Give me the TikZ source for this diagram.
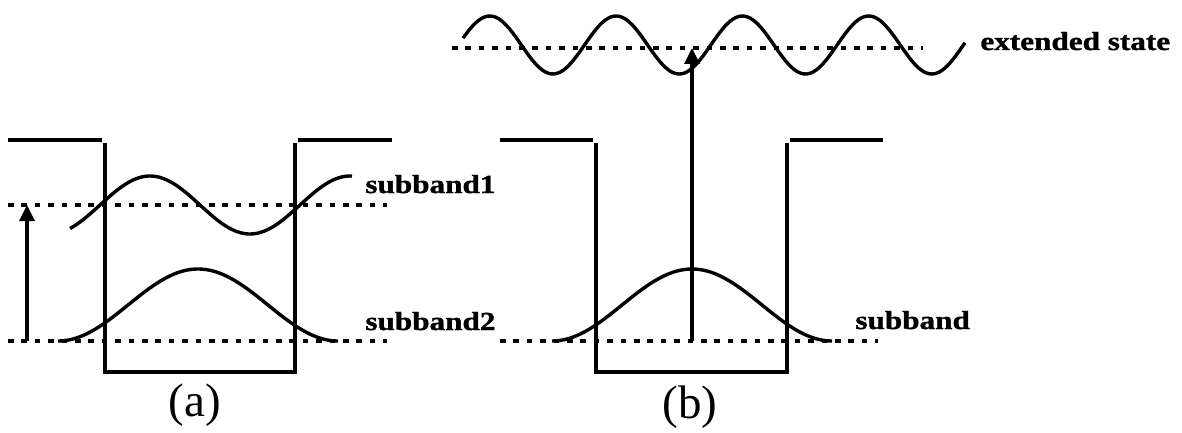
\documentclass[tikz,border=0pt]{standalone}
\usepackage{fontspec}
\setmainfont{Liberation Serif}
\newfontfamily\lblfont[FakeStretch=1.2, FakeBold=1.2]{Liberation Serif Bold}
\usetikzlibrary{arrows.meta}

\begin{document}
\begin{tikzpicture}[x=0.5pt, y=-0.5pt,
  wall/.style={line width=1.7pt},
  wave/.style={line width=1.7pt},
  level/.style={line width=1.6pt, dash pattern=on 2.8pt off 3.9pt},
  ar/.style={-{Triangle[length=8pt, width=7.5pt]}, line width=1.7pt},
  lbl/.style={font=\fontsize{13}{15}\lblfont, anchor=base west, inner sep=0pt},
  tag/.style={font=\fontsize{23.5}{27}\selectfont, inner sep=0pt}
]
\useasboundingbox (0,0) rectangle (1182,433);

% (a)
\draw[wall] (8,140) -- (102,140);
\draw[wall] (105,143) -- (105,372) -- (295,372) -- (295,143);
\draw[wall] (298,140) -- (392,140);
\draw[level] (8,205) -- (387,205);
\draw[level] (8,341) -- (387,341);
\draw[wave] plot[domain=70:352, samples=120] (\x, {205 - 29*sin(1.8*(\x-100))});
\draw[wave] plot[domain=58:338, samples=120] (\x, {341 - 36*(1+cos(1.2857*(\x-198)))});
\coordinate (a-lo) at (27,341);
\coordinate (a-hi) at (27,205);
\draw[ar] (a-lo) -- (a-hi);
\node[lbl] (sb1) at (365,193) {subband1};
\node[lbl] (sb2) at (365,330) {subband2};
\node[tag] (taga) at (195,405) {(a)};

% (b)
\draw[wall] (500,140) -- (593,140);
\draw[wall] (596,143) -- (596,372) -- (787,372) -- (787,143);
\draw[wall] (790,140) -- (883,140);
\draw[level] (500,341) -- (878,341);
\draw[level] (452,48) -- (923,48);
\draw[wave] plot[domain=552:832, samples=120] (\x, {341 - 36*(1+cos(1.2857*(\x-692)))});
\draw[wave] plot[domain=463:965, samples=200] (\x, {45 - 29*sin(2.8504*(\x-458.2))});
\coordinate (b-lo) at (692,341);
\coordinate (b-hi) at (692,48);
\draw[ar] (b-lo) -- (b-hi);
\node[lbl] (sb) at (855,329) {subband};
\node[lbl] (ext) at (980,50) {extended state};
\node[tag] (tagb) at (690,407) {(b)};
\end{tikzpicture}
\end{document}
